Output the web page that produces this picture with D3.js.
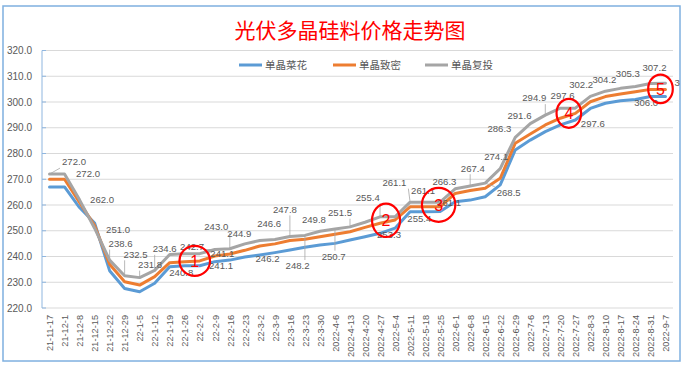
<!DOCTYPE html>
<html><head><meta charset="utf-8">
<script src="https://cdn.jsdelivr.net/npm/d3@7"></script>
<style>
html,body{margin:0;padding:0;background:#fff;}
svg{display:block;}
</style></head>
<body><svg id="chart" width="685" height="367"></svg>
<script>
const title = "光伏多晶硅料价格走势图";
const seriesNames = ["单晶菜花", "单晶致密", "单晶复投"];
const categories = ["21-11-17","21-12-1","21-12-8","21-12-15","21-12-22","21-12-29","22-1-5","22-1-12","22-1-19","22-1-26","22-2-2","22-2-9","22-2-16","22-2-23","22-3-2","22-3-9","22-3-16","22-3-23","22-3-30","2022-4-6","2022-4-13","2022-4-20","2022-4-27","2022-5-4","2022-5-11","2022-5-18","2022-5-25","2022-6-1","2022-6-8","2022-6-15","2022-6-22","2022-6-29","2022-7-6","2022-7-13","2022-7-20","2022-7-27","2022-8-3","2022-8-10","2022-8-17","2022-8-24","2022-8-31","2022-9-7"];
// 单晶菜花 (blue)
const caiHua = [267.0,267.0,259.0,253.0,234.5,227.6,226.3,229.6,236.0,236.4,236.4,238.0,238.6,239.8,240.6,241.5,242.5,243.6,244.5,245.1,246.4,247.7,249.0,251.0,257.4,257.4,257.5,261.3,261.9,263.2,267.8,281.4,285.2,288.5,291.1,293.0,297.5,299.5,300.5,301.0,302.1,302.1];
// 单晶致密 (orange)
const zhiMi = [270.0,270.0,261.0,252.0,237.0,230.2,228.9,232.2,237.6,238.0,238.3,240.2,241.0,242.4,244.1,244.9,246.2,246.7,247.7,248.6,249.6,251.3,252.9,254.2,259.3,259.3,259.3,264.5,265.6,266.5,270.4,284.0,287.6,291.1,293.7,295.6,300.1,302.1,303.1,304.0,304.9,304.9];
// 单晶复投 (gray, labelled)
const fuTou = [272.0,272.0,262.0,251.0,238.6,232.5,231.8,234.6,240.8,241.1,241.1,242.7,243.0,244.9,246.2,246.6,247.8,248.2,249.8,250.7,251.5,253.3,255.4,255.4,261.1,261.1,261.1,266.3,267.4,268.5,274.1,286.3,291.6,294.9,297.6,297.6,302.2,304.2,305.3,306.0,307.2,307.3];
const yTicks = [220,230,240,250,260,270,280,290,300,310,320];
// circled markers: number and the category they sit on
const markerNums = ["1","2","3","4","5"];
const markerCats = ["22-2-2","2022-4-27","2022-5-25","2022-7-27","2022-9-7"];

// ---- layout (not data) ----
const labelLayout = [[24.5,-12,1],[23.5,0,0],[22.5,0,0],[23.5,1,0],[11,-16.5,1],[11,-21.5,1],[10.4,-13,1],[10,-21.6,1],[11.6,18,0],[37.6,0.3,0],[21.3,12,0],[-22.7,-2.8,1],[-13.5,-22,1],[-5.5,-10.6,0],[7.7,17.8,0],[-5.7,-16.2,0],[-5,-27,1],[-7.3,30.6,1],[-6,-11.3,0],[-1.3,27.7,1],[-10,-14.2,1],[24,12.7,0],[-12.3,-19.5,1],[24.3,1.5,0],[-15.7,-19.5,1],[-2,-12,0],[9,0,0],[-10.7,-7,0],[2.7,-17.7,1],[23.5,9.5,1],[-4,-12,0],[-15.8,-8.3,0],[-10.8,-8,0],[-11,-17,1],[2.3,-13,0],[17.5,15.3,0],[-9.2,-12,0],[-1,-12,0],[7.4,-14.3,0],[10.7,16.2,0],[4,-16.3,0],[21,-1,0]];
const markerShape = [[-5,0,15.3,15],[6,-3,14,16.7],[-1.5,-2,16.7,17],[-6.5,0,12.3,14.5],[-5,-0.5,12.3,14.3]];

const colors = ["#5b9bd5","#ed7d31","#a5a5a5"];
const svg = d3.select("#chart");
const plot = {left:42, right:673, top:50.5, bottom:308};
const x = d3.scalePoint().domain(categories).range([plot.left, plot.right]).padding(0.5);
const y = d3.scaleLinear().domain([220,320]).range([plot.bottom, plot.top]);
const numFont = "'Liberation Sans', Arial, sans-serif";
const cjkFont = "'Noto Sans CJK SC', sans-serif";

svg.append("defs").append("clipPath").attr("id","frame")
  .append("rect").attr("x",3).attr("y",6).attr("width",677).attr("height",355);

svg.append("rect").attr("x",3).attr("y",6).attr("width",677).attr("height",355)
  .attr("fill","#fff").attr("stroke","#7fb0e0").attr("stroke-width",1.5);

svg.append("text").attr("x",350).attr("y",38).attr("text-anchor","middle")
  .attr("font-family",cjkFont).attr("font-size",21).attr("fill","#ff0000").text(title);

// gridlines
const yAxis = d3.axisLeft(y).tickValues(yTicks).tickSize(0).tickFormat(d3.format(".1f"));
const yg = svg.append("g").attr("transform",`translate(${plot.left},0)`).call(yAxis);
yg.select(".domain").remove();
yg.selectAll("text").attr("x",-10).attr("font-family",numFont).attr("font-size",10).attr("fill","#595959");
svg.append("g").selectAll("line").data(yTicks).join("line")
  .attr("x1",plot.left).attr("x2",plot.right).attr("y1",d=>y(d)).attr("y2",d=>y(d))
  .attr("stroke","#d9d9d9").attr("stroke-width",1);
// y axis line + inner ticks
svg.append("line").attr("x1",plot.left).attr("x2",plot.left).attr("y1",y(320)).attr("y2",y(220))
  .attr("stroke","#8fb6df").attr("stroke-width",1);
svg.append("g").selectAll("line").data(yTicks).join("line")
  .attr("x1",plot.left).attr("x2",plot.left+4).attr("y1",d=>y(d)).attr("y2",d=>y(d))
  .attr("stroke","#8fb6df").attr("stroke-width",1);

// x axis labels
const xAxis = d3.axisBottom(x).tickSize(0);
const xg = svg.append("g").attr("transform",`translate(0,${plot.bottom})`).call(xAxis);
xg.select(".domain").remove();
xg.selectAll("text").attr("font-family",numFont).attr("font-size",9.2).attr("fill","#595959")
  .attr("text-anchor","end").attr("transform","rotate(-90)")
  .attr("x",-7).attr("y",0).attr("dy","0.35em");

// legend
const legX = [239, 333, 425];
const leg = svg.append("g");
seriesNames.forEach((n,i)=>{
  leg.append("line").attr("x1",legX[i]).attr("x2",legX[i]+23).attr("y1",65).attr("y2",65)
    .attr("stroke",colors[i]).attr("stroke-width",3);
  leg.append("text").attr("x",legX[i]+26).attr("y",65).attr("dy","0.35em")
    .attr("font-family",cjkFont).attr("font-size",10.5).attr("fill","#595959").text(n);
});

// lines
const seriesData = [caiHua, zhiMi, fuTou];
const line = d3.line().x((d,i)=>x(categories[i])).y(d=>y(d));
seriesData.forEach((s,i)=>{
  svg.append("path").datum(s).attr("d",line).attr("fill","none")
    .attr("stroke",colors[i]).attr("stroke-width",3).attr("stroke-linejoin","round").attr("stroke-linecap","round");
});

// data labels for 单晶复投
const lg = svg.append("g").attr("clip-path","url(#frame)");
fuTou.forEach((v,i)=>{
  const px = x(categories[i]), py = y(v);
  const [dx,dy,leader] = labelLayout[i];
  const lx = px+dx, ly = py+dy;
  if (leader){
    const hw=14, hh=6;
    const sx = Math.max(lx-hw, Math.min(px, lx+hw));
    const sy = Math.max(ly-hh, Math.min(py, ly+hh));
    lg.append("line").attr("x1",sx).attr("y1",sy).attr("x2",px).attr("y2",py)
      .attr("stroke","#a6a6a6").attr("stroke-width",0.8);
  }
  lg.append("text").attr("x",lx).attr("y",ly).attr("dy","0.35em").attr("text-anchor","middle")
    .attr("font-family",numFont).attr("font-size",9.6).attr("fill","#595959")
    .text(d3.format(".1f")(v));
});

// red circled markers
markerNums.forEach((n,k)=>{
  const i = categories.indexOf(markerCats[k]);
  const [dx,dy,rx,ry] = markerShape[k];
  const cx = x(categories[i])+dx, cy = y(zhiMi[i])+dy;
  svg.append("ellipse").attr("cx",cx).attr("cy",cy).attr("rx",rx).attr("ry",ry)
    .attr("fill","none").attr("stroke","#ff0000").attr("stroke-width",2.2);
  svg.append("text").attr("x",cx).attr("y",cy).attr("dy","0.36em").attr("text-anchor","middle")
    .attr("font-family",numFont).attr("font-size",16).attr("fill","#ff0000").text(n);
});
</script>
</body></html>
